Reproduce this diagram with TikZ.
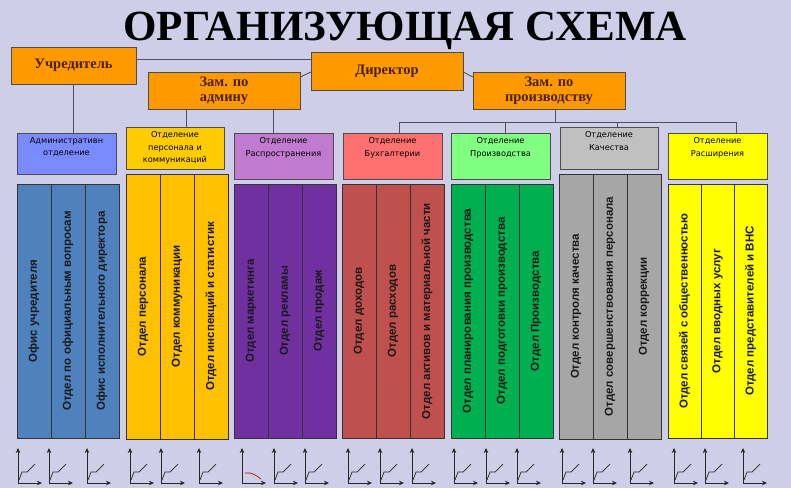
\documentclass[tikz,border=0pt]{standalone}
\usepackage{fontspec}
\setmainfont{Liberation Serif}
\newfontfamily\cellfont{Liberation Sans}
\newfontfamily\headfont{DejaVu Sans}
\usepackage{tikz}
\usetikzlibrary{positioning, arrows.meta}

\definecolor{backgr}{RGB}{206,206,232}
\definecolor{bossorange}{RGB}{255,153,0}
\definecolor{bossink}{RGB}{74,32,0}
\definecolor{linegray}{RGB}{80,80,96}
\definecolor{hadm}{RGB}{122,138,255}
\definecolor{hpers}{RGB}{255,204,0}
\definecolor{hrasp}{RGB}{192,122,208}
\definecolor{hbuh}{RGB}{255,112,112}
\definecolor{hprod}{RGB}{128,255,128}
\definecolor{hkach}{RGB}{192,192,192}
\definecolor{hrash}{RGB}{255,255,0}
\definecolor{cadm}{RGB}{79,129,189}
\definecolor{cpers}{RGB}{255,192,0}
\definecolor{crasp}{RGB}{112,48,160}
\definecolor{cbuh}{RGB}{192,80,77}
\definecolor{cprod}{RGB}{0,176,80}
\definecolor{ckach}{RGB}{166,166,166}
\definecolor{crash}{RGB}{255,255,0}

\begin{document}
\begin{tikzpicture}[x=1pt, y=-1pt, inner sep=0pt, >={Stealth[length=5pt,width=4.5pt]},
  boss/.style={draw=black!70, fill=bossorange, minimum width=152, minimum height=37,
    align=center, text=bossink, font=\bfseries\fontsize{14.5}{15}\selectfont},
  dept/.style={draw=black!70, minimum width=99, minimum height=46},
  depttext/.style={align=center, text=black, font=\headfont\fontsize{8.2}{12.5}\selectfont},
  cell/.style={draw=black!80, rotate=90, minimum height=34, text=black!90,
    font=\cellfont\bfseries\fontsize{11.5}{12}\selectfont},
  link/.style={draw=linegray, line width=0.9pt},
  axes/.style={<->, draw=black!85, line width=0.8pt}]
\fill[backgr] (0,0) rectangle (791,488);
\useasboundingbox (0,0) rectangle (791,488);

\node (title) at (405,40) [anchor=base] {\fontsize{43}{43}\selectfont\bfseries ОРГАНИЗУЮЩАЯ СХЕМА};

% heads
\node (ucr) at (73.5,65.5) [boss, minimum width=125] {Учредитель};
\node (dir) at (387,71) [boss, minimum height=38] {Директор};
\node (zadm) at (224,90.5) [boss] {Зам. по\\админу};
\node (zpr) at (549,90.5) [boss] {Зам. по\\производству};

% departments
\node (adm) at (66.5,153.5) [dept, fill=hadm, minimum height=41] {};
\node (pers) at (175,148) [dept, fill=hpers, minimum width=98, minimum height=42] {};
\node (rasp) at (283.5,156) [dept, fill=hrasp] {};
\node (buh) at (392.5,156) [dept, fill=hbuh] {};
\node (prod) at (500.5,156) [dept, fill=hprod] {};
\node (kach) at (609,148) [dept, fill=hkach, minimum width=98, minimum height=42] {};
\node (rash) at (717.5,156) [dept, fill=hrash] {};

\node (admT) [depttext, below=4.5pt of adm.north] {Административн\\отделение};
\node (persT) [depttext, below=4.5pt of pers.north] {Отделение\\персонала и\\коммуникаций};
\node (raspT) [depttext, below=4.5pt of rasp.north] {Отделение\\Распространения};
\node (buhT) [depttext, below=4.5pt of buh.north] {Отделение\\Бухгалтерии};
\node (prodT) [depttext, below=4.5pt of prod.north] {Отделение\\Производства};
\node (kachT) [depttext, below=4.5pt of kach.north] {Отделение\\Качества};
\node (rashT) [depttext, below=4.5pt of rash.north] {Отделение\\Расширения};

% links
\draw[link] ([yshift=6.5pt]ucr.east) -- ([yshift=6.5pt]ucr.east -| dir.west);
\draw[link] ([yshift=13.5pt]zadm.east) -- ([yshift=-1pt]dir.west);
\draw[link] ([yshift=-1pt]dir.east) -- ([yshift=13.5pt]zpr.west);
\draw[link] (ucr.south) -- (ucr.south |- adm.north);
\draw[link] ([xshift=-38pt]zadm.south) -- ([xshift=-38pt]zadm.south |- pers.north);
\draw[link] ([xshift=49pt]zadm.south) -- ([xshift=49pt]zadm.south |- rasp.north);
\coordinate (busB) at (399,122);
\coordinate (busP) at (505,122);
\coordinate (busQ) at (617,122);
\coordinate (busR) at (736,122);
\draw[link] ([xshift=6pt]zpr.south) -- ([xshift=6pt]zpr.south |- busB);
\draw[link] (busB) -- (busR);
\draw[link] (busB) -- (busB |- buh.north);
\draw[link] (busP) -- (busP |- prod.north);
\draw[link] (busQ) -- (busQ |- kach.north);
\draw[link] (busR) -- (busR |- rash.north);

% columns
\node (a1) at (34,311) [cell, fill=cadm, minimum width=254] {Офис учредителя};
\node (a2) at (68,311) [cell, fill=cadm, minimum width=254] {Отдел по официальным вопросам};
\node (a3) at (102,311) [cell, fill=cadm, minimum width=254] {Офис исполнительного директора};
\node (p1) at (143,306.5) [cell, fill=cpers, minimum width=265] {Отдел персонала};
\node (p2) at (177,306.5) [cell, fill=cpers, minimum width=265] {Отдел коммуникации};
\node (p3) at (211,306.5) [cell, fill=cpers, minimum width=265] {Отдел инспекций и статистик};
\node (r1) at (251,311) [cell, fill=crasp, minimum width=254] {Отдел маркетинга};
\node (r2) at (285,311) [cell, fill=crasp, minimum width=254] {Отдел рекламы};
\node (r3) at (319,311) [cell, fill=crasp, minimum width=254] {Отдел продаж};
\node (b1) at (359,311) [cell, fill=cbuh, minimum width=254] {Отдел доходов};
\node (b2) at (393,311) [cell, fill=cbuh, minimum width=254] {Отдел расходов};
\node (b3) at (427,311) [cell, fill=cbuh, minimum width=254] {Отдел активов и материальной части};
\node (m1) at (468,311) [cell, fill=cprod, minimum width=254] {Отдел планирования производства};
\node (m2) at (502,311) [cell, fill=cprod, minimum width=254] {Отдел подготовки производства};
\node (m3) at (536,311) [cell, fill=cprod, minimum width=254] {Отдел Производства};
\node (q1) at (576,306.5) [cell, fill=ckach, minimum width=265] {Отдел контроля качества};
\node (q2) at (610,306.5) [cell, fill=ckach, minimum width=265] {Отдел совершенствования персонала};
\node (q3) at (644,306.5) [cell, fill=ckach, minimum width=265] {Отдел коррекции};
\node (e1) at (684.5,311) [cell, fill=crash, minimum width=254, minimum height=33] {Отдел связей с общественностью};
\node (e2) at (717.5,311) [cell, fill=crash, minimum width=254, minimum height=33] {Отдел вводных услуг};
\node (e3) at (750.5,311) [cell, fill=crash, minimum width=254, minimum height=33] {Отдел представителей и ВНС};

% small graphs
\foreach \gx in {18,49,87,130,161,199,242,274,305,348,380,412,454,486,517,562,593,630,674,705,743}
  \draw[axes] (\gx,448) -- (\gx,483) -- (\gx+24,483);
\foreach \gx in {18,49,87,130,161,199,274,305,348,380,412,454,486,517,562,593,630,674,705,743}
  \draw[black!85, line width=0.7pt] (\gx+1,480) -- (\gx+4,472) -- (\gx+9,472) -- (\gx+17,464);
\draw[red!80!black, line width=0.7pt] (245,473) .. controls (251,472) and (256,475) .. (261,479);
\end{tikzpicture}
\end{document}
